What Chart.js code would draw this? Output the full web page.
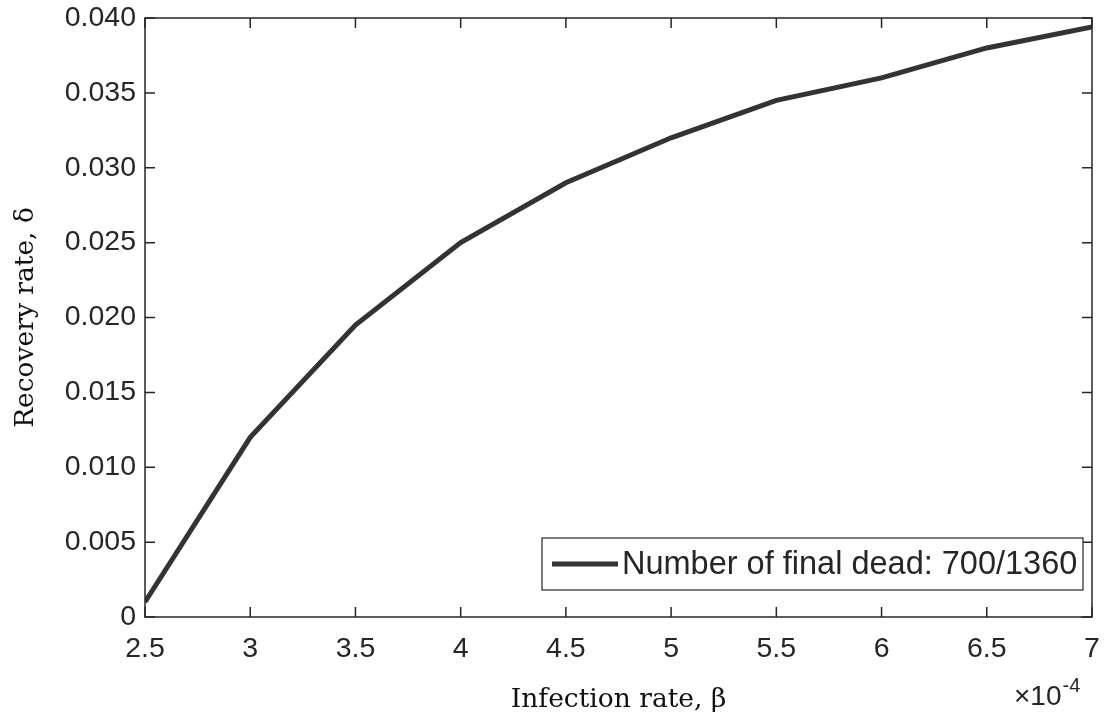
<!DOCTYPE html>
<html>
<head>
<meta charset="utf-8">
<script src="https://cdn.jsdelivr.net/npm/chart.js@4"></script>
<style>
  html, body { margin: 0; padding: 0; background: #fff; }
  #wrap { width: 1104px; height: 722px; }
</style>
</head>
<body>
<div id="wrap"><canvas id="grafico"></canvas></div>
<script>
// infection rate (x 10^-4) and recovery rate
const infectionRate = [2.5, 3, 3.5, 4, 4.5, 5, 5.5, 6, 6.5, 7];
const recoveryRate = [0.001, 0.012, 0.0195, 0.025, 0.029, 0.032, 0.0345, 0.036, 0.038, 0.0394];
const xTicks = [2.5, 3, 3.5, 4, 4.5, 5, 5.5, 6, 6.5, 7];
const yTicks = [0, 0.005, 0.010, 0.015, 0.020, 0.025, 0.030, 0.035, 0.040];
const legendLabel = 'Number of final dead: 700/1360';

const corEixo = '#262626';
const corLinha = '#333333';
const sans = '"Liberation Sans", Arial, sans-serif';
const serif = '"DejaVu Serif", "Liberation Serif", serif';

// box, inward ticks, legend and the exponent label
const caixaMatlab = {
  id: 'caixaMatlab',
  afterDraw(chart) {
    const ctx = chart.ctx;
    const a = chart.chartArea;
    const sx = chart.scales.x;
    const sy = chart.scales.y;
    const t = 10;
    ctx.save();
    ctx.strokeStyle = corEixo;
    ctx.lineWidth = 1.5;
    ctx.strokeRect(a.left, a.top, a.right - a.left, a.bottom - a.top);
    ctx.beginPath();
    xTicks.forEach(function(v) {
      const px = sx.getPixelForValue(v);
      ctx.moveTo(px, a.bottom); ctx.lineTo(px, a.bottom - t);
      ctx.moveTo(px, a.top); ctx.lineTo(px, a.top + t);
    });
    yTicks.forEach(function(v) {
      const py = sy.getPixelForValue(v);
      ctx.moveTo(a.left, py); ctx.lineTo(a.left + t, py);
      ctx.moveTo(a.right, py); ctx.lineTo(a.right - t, py);
    });
    ctx.stroke();

    // legend
    const lw = 541, lh = 52;
    const lx = a.right - 9 - lw;
    const ly = a.bottom - 27 - lh;
    ctx.fillStyle = '#fff';
    ctx.fillRect(lx, ly, lw, lh);
    ctx.lineWidth = 1.2;
    ctx.strokeRect(lx, ly, lw, lh);
    ctx.strokeStyle = corLinha;
    ctx.lineWidth = 5;
    ctx.beginPath();
    ctx.moveTo(lx + 10, ly + lh / 2);
    ctx.lineTo(lx + 76, ly + lh / 2);
    ctx.stroke();
    ctx.fillStyle = corEixo;
    ctx.font = '32.5px ' + sans;
    ctx.textAlign = 'left';
    ctx.textBaseline = 'middle';
    ctx.fillText(legendLabel, lx + 80, ly + lh / 2 + 1);

    // x10^-4
    ctx.textBaseline = 'alphabetic';
    ctx.font = '28px ' + sans;
    ctx.fillText('\u00d710', 1014, 705);
    const w = ctx.measureText('\u00d710').width;
    ctx.font = '20px ' + sans;
    ctx.fillText('-4', 1014 + w + 1, 692);
    ctx.restore();
  }
};

document.addEventListener('DOMContentLoaded', function() {
  const ctx = document.getElementById('grafico').getContext('2d');
  new Chart(ctx, {
    type: 'line',
    data: {
      datasets: [{
        label: legendLabel,
        data: infectionRate.map(function(x, i) { return { x: x, y: recoveryRate[i] }; }),
        borderColor: corLinha,
        borderWidth: 5,
        pointRadius: 0,
        tension: 0,
        fill: false
      }]
    },
    options: {
      responsive: true,
      maintainAspectRatio: false,
      animation: false,
      layout: { padding: { top: 18, right: 12, left: 0, bottom: 0 } },
      plugins: {
        legend: { display: false },
        tooltip: { enabled: false }
      },
      scales: {
        x: {
          type: 'linear',
          min: 2.5,
          max: 7,
          afterBuildTicks: function(scale) {
            scale.ticks = xTicks.map(function(v) { return { value: v }; });
          },
          afterFit: function(scale) {
            scale.height = 105;
            scale.paddingLeft = 0;
            scale.paddingRight = 0;
          },
          grid: { display: false },
          border: { display: false },
          ticks: {
            color: corEixo,
            font: { family: sans, size: 28.5 },
            padding: 7,
            maxRotation: 0,
            callback: function(v) { return String(v); }
          },
          title: {
            display: true,
            text: 'Infection rate, \u03b2',
            color: '#111',
            font: { family: serif, size: 26.5 },
            padding: { top: 0, bottom: 6 }
          }
        },
        y: {
          type: 'linear',
          min: 0,
          max: 0.04,
          afterBuildTicks: function(scale) {
            scale.ticks = yTicks.map(function(v) { return { value: v }; });
          },
          afterFit: function(scale) {
            scale.width = 145;
            scale.paddingTop = 0;
            scale.paddingBottom = 0;
          },
          grid: { display: false },
          border: { display: false },
          ticks: {
            color: corEixo,
            font: { family: sans, size: 28.5 },
            padding: 1,
            callback: function(v) { return v === 0 ? '0' : v.toFixed(3); }
          },
          title: {
            display: true,
            text: 'Recovery rate, \u03b4',
            color: '#111',
            font: { family: serif, size: 26.5 },
            padding: { top: 10, bottom: 0 }
          }
        }
      }
    },
    plugins: [caixaMatlab]
  });
});
</script>
</body>
</html>
